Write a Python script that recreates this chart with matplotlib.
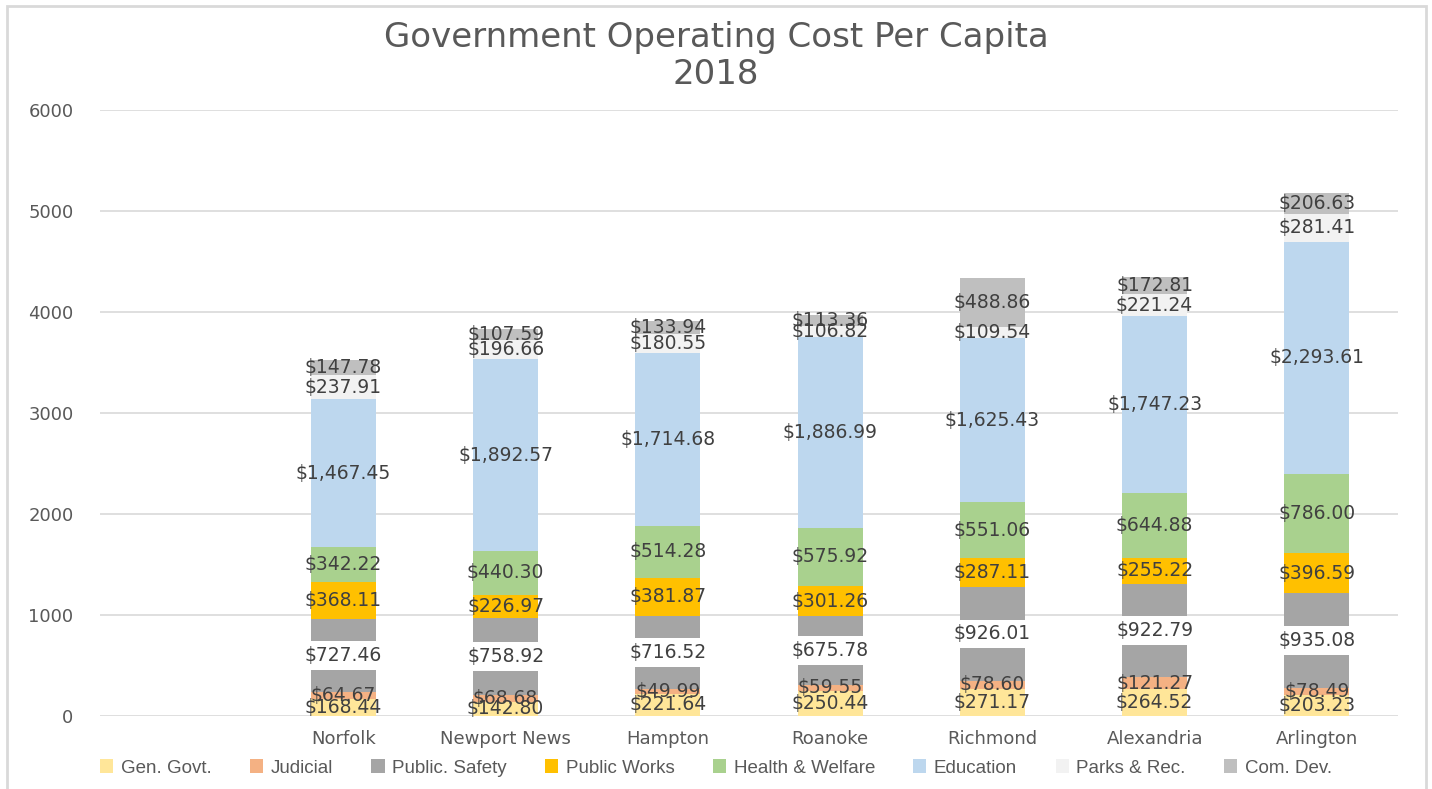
import matplotlib
matplotlib.use("Agg")
from matplotlib import pyplot as plt, patches

# Data (first slot is an empty category, as in the original sheet)
cities = ["", "Norfolk", "Newport News", "Hampton", "Roanoke", "Richmond", "Alexandria", "Arlington"]
gen_govt = [0, 168.44, 142.80, 221.64, 250.44, 271.17, 264.52, 203.23]
judicial = [0, 64.67, 68.68, 49.99, 59.55, 78.60, 121.27, 78.49]
public_safety = [0, 727.46, 758.92, 716.52, 675.78, 926.01, 922.79, 935.08]
public_works = [0, 368.11, 226.97, 381.87, 301.26, 287.11, 255.22, 396.59]
health_welfare = [0, 342.22, 440.30, 514.28, 575.92, 551.06, 644.88, 786.00]
education = [0, 1467.45, 1892.57, 1714.68, 1886.99, 1625.43, 1747.23, 2293.61]
parks_rec = [0, 237.91, 196.66, 180.55, 106.82, 109.54, 221.24, 281.41]
com_dev = [0, 147.78, 107.59, 133.94, 113.36, 488.86, 172.81, 206.63]

series_names = ["Gen. Govt.", "Judicial", "Public. Safety", "Public Works",
                "Health & Welfare", "Education", "Parks & Rec.", "Com. Dev."]
series = [gen_govt, judicial, public_safety, public_works,
          health_welfare, education, parks_rec, com_dev]
colors = ["#FFE699", "#F4B183", "#A5A5A5", "#FFC000",
          "#A9D18E", "#BDD7EE", "#F2F2F2", "#BFBFBF"]

text_color = "#595959"
label_color = "#404040"

fig = plt.figure(figsize=(14.32, 7.89), dpi=100)
ax = fig.add_axes([100 / 1432, 1 - 716 / 789, 1298 / 1432, (716 - 110) / 789])

x = list(range(len(cities)))
bottom = [0.0] * len(cities)
for name, vals, col in zip(series_names, series, colors):
    bars = ax.bar(x, vals, width=0.4, bottom=bottom, color=col, label=name, linewidth=0)
    labels = [f"${v:,.2f}" if v else "" for v in vals]
    extra = {}
    # Public safety labels sit on a white box in the original
    if name == "Public. Safety":
        extra["bbox"] = dict(facecolor="white", edgecolor="none", pad=3.5)
    ax.bar_label(bars, labels=labels, label_type="center", fontsize=13.5,
                 color=label_color, **extra)
    bottom = [b + v for b, v in zip(bottom, vals)]

ax.set_xlim(-0.5, len(cities) - 0.5)
ax.set_ylim(0, 6000)
ax.set_yticks(range(0, 6001, 1000))
ax.set_xticks(x)
ax.set_xticklabels(cities)
ax.tick_params(axis="both", length=0, colors=text_color, labelsize=13)
ax.tick_params(axis="y", pad=19)
ax.tick_params(axis="x", pad=10)
ax.grid(axis="y", color="#D9D9D9", linewidth=1.2)
ax.set_axisbelow(True)
for s in ax.spines.values():
    s.set_visible(False)

fig.text(0.5, 1 - 56 / 789, "Government Operating Cost Per Capita\n2018",
         ha="center", va="center", fontsize=24.5, color=text_color,
         family="DejaVu Sans", linespacing=1.12)

fig.legend(loc="center", bbox_to_anchor=(0.5, 1 - 768 / 789), ncol=8, frameon=False,
           handlelength=0.7, handleheight=0.7, handletextpad=0.4, columnspacing=2.05,
           prop={"family": "Liberation Sans", "size": 13.5}, labelcolor=text_color)

# light chart border
fig.patches.append(patches.Rectangle((7 / 1432, -0.05), (1426 - 7) / 1432, 1.05 - 6 / 789,
                                     transform=fig.transFigure, fill=False,
                                     edgecolor="#D9D9D9", linewidth=2))

fig.savefig("out.png", dpi=100)
